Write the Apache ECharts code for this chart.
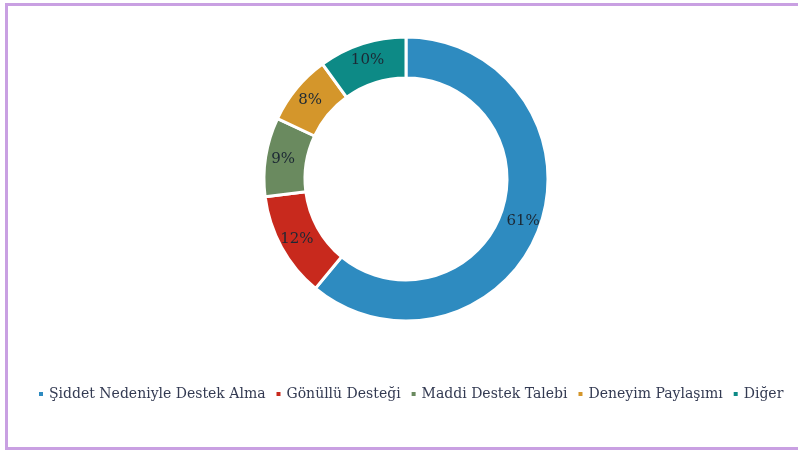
<!DOCTYPE html>
<html>
<head>
<meta charset="utf-8">
<script src="https://cdn.jsdelivr.net/npm/echarts@6/dist/echarts.min.js"></script>
<style>
  html, body { margin: 0; padding: 0; background: #fff; }
  #chart { width: 798px; height: 450px; }
</style>
</head>
<body>
<div id="chart"></div>
<script>
var categories = ['Şiddet Nedeniyle Destek Alma', 'Gönüllü Desteği', 'Maddi Destek Talebi', 'Deneyim Paylaşımı', 'Diğer'];
var values = [61, 12, 9, 8, 10];
var colors = ['#2e8bc0', '#c8291d', '#6a8a5f', '#d4962b', '#0d8a86'];

var chart = echarts.init(document.getElementById('chart'));

var option = {
  color: colors,
  textStyle: { fontFamily: 'DejaVu Serif' },
  graphic: [{
    type: 'rect',
    shape: { x: 6.5, y: 4.5, width: 800, height: 444 },
    style: { fill: 'none', stroke: '#c9a0e2', lineWidth: 3 },
    silent: true
  }],
  legend: {
    bottom: 44,
    left: 32,
    itemWidth: 6,
    itemHeight: 6,
    itemGap: 9,
    icon: 'rect',
    textStyle: { fontSize: 14, color: '#333a52', fontFamily: 'DejaVu Serif' },
    data: categories
  },
  series: [{
    type: 'pie',
    center: [406, 179],
    radius: [101, 142],
    startAngle: 90,
    clockwise: true,
    avoidLabelOverlap: false,
    itemStyle: { borderColor: '#fff', borderWidth: 3 },
    label: {
      position: 'inside',
      formatter: '{c}%',
      fontSize: 15,
      color: '#1c2834',
      fontFamily: 'DejaVu Serif'
    },
    labelLine: { show: false },
    data: categories.map(function (c, i) { return { name: c, value: values[i] }; })
  }]
};
chart.setOption(option);
</script>
</body>
</html>
